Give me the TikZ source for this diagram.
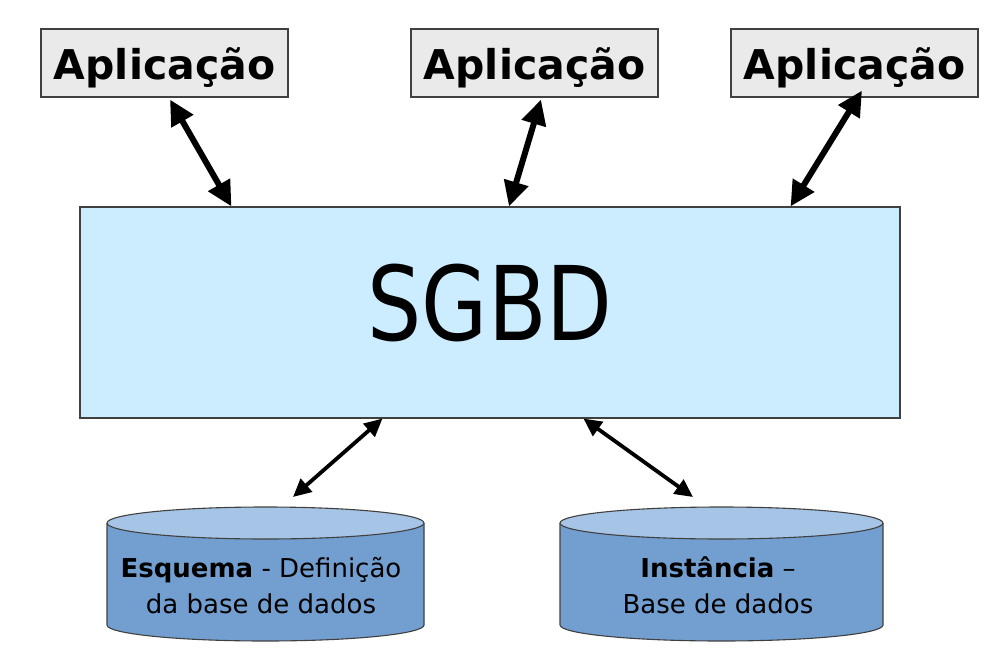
\documentclass[tikz,border=0pt]{standalone}
\usepackage{fontspec}
\usepackage{graphicx}
\setmainfont{DejaVu Sans}
\usetikzlibrary{arrows.meta}
\definecolor{appfill}{RGB}{234,234,234}
\definecolor{sgbdfill}{RGB}{204,236,255}
\definecolor{cylbody}{RGB}{114,159,208}
\definecolor{cyltop}{RGB}{166,196,229}
\definecolor{edge}{RGB}{64,64,64}
\tikzset{
  appbox/.style={draw=edge, line width=1.1pt, fill=appfill, minimum width=247pt, minimum height=68pt,
    inner sep=0pt, font=\fontsize{41}{41}\selectfont\bfseries, text height=32pt, text depth=0pt},
  sgbdbox/.style={draw=edge, line width=1.1pt, fill=sgbdfill, minimum width=820pt, minimum height=211pt, inner sep=0pt},
  bigtext/.style={inner sep=0pt, anchor=base, font=\fontsize{103}{103}\selectfont},
  cyltext/.style={inner sep=0pt, anchor=base, align=center, font=\fontsize{26}{36}\selectfont},
  uparrow/.style={line width=6pt, {Triangle[length=25pt,width=24pt]}-{Triangle[length=25pt,width=24pt]}},
  lowarrow/.style={line width=3.8pt, {Triangle[length=18pt,width=17pt]}-{Triangle[length=18pt,width=17pt]}},
  cylline/.style={draw=edge, line width=1.1pt}
}
\begin{document}
\begin{tikzpicture}[x=1pt,y=-1pt]
\useasboundingbox (0,0) rectangle (1006,653);
% application boxes
\node[appbox] (app1) at (164.5,63) {Aplicação};
\node[appbox] (app2) at (534.5,63) {Aplicação};
\node[appbox] (app3) at (854.5,63) {Aplicação};
% SGBD
\node[sgbdbox] (sgbd) at (490,312.5) {};
\node[bigtext] (sgbdlabel) at (490,340) {\scalebox{0.83}[1]{SGBD}};
% cylinders
\coordinate (cyl1) at (265.5,507);
\coordinate (cyl2) at (721.5,507);
\filldraw[cylline, fill=cylbody] (107,523) -- (107,625) arc[start angle=180, end angle=0, x radius=158.5, y radius=16] -- (424,523);
\filldraw[cylline, fill=cyltop] (265.5,523) ellipse[x radius=158.5, y radius=16];
\filldraw[cylline, fill=cylbody] (560,523) -- (560,625) arc[start angle=180, end angle=0, x radius=161.5, y radius=16] -- (883,523);
\filldraw[cylline, fill=cyltop] (721.5,523) ellipse[x radius=161.5, y radius=16];
\node[cyltext] (esq) at (261,613) {\textbf{Esquema} - Definição\\da base de dados};
\node[cyltext] (inst) at (718,613) {\textbf{Instância} –\\Base de dados};
% arrows
\draw[uparrow] ([shift={(5.5,2)}]app1.south) -- ([shift={(152,0)}]sgbd.north west);
\draw[uparrow] ([shift={(6.5,2)}]app2.south) -- ([shift={(19,0)}]sgbd.north);
\draw[uparrow] ([shift={(7.5,-7)}]app3.south) -- ([shift={(-110,0)}]sgbd.north east);
\draw[lowarrow] ([shift={(303,0)}]sgbd.south west) -- ([shift={(27.5,-10)}]cyl1);
\draw[lowarrow] ([shift={(504,0)}]sgbd.south west) -- ([shift={(-28.5,-10)}]cyl2);
\end{tikzpicture}
\end{document}
